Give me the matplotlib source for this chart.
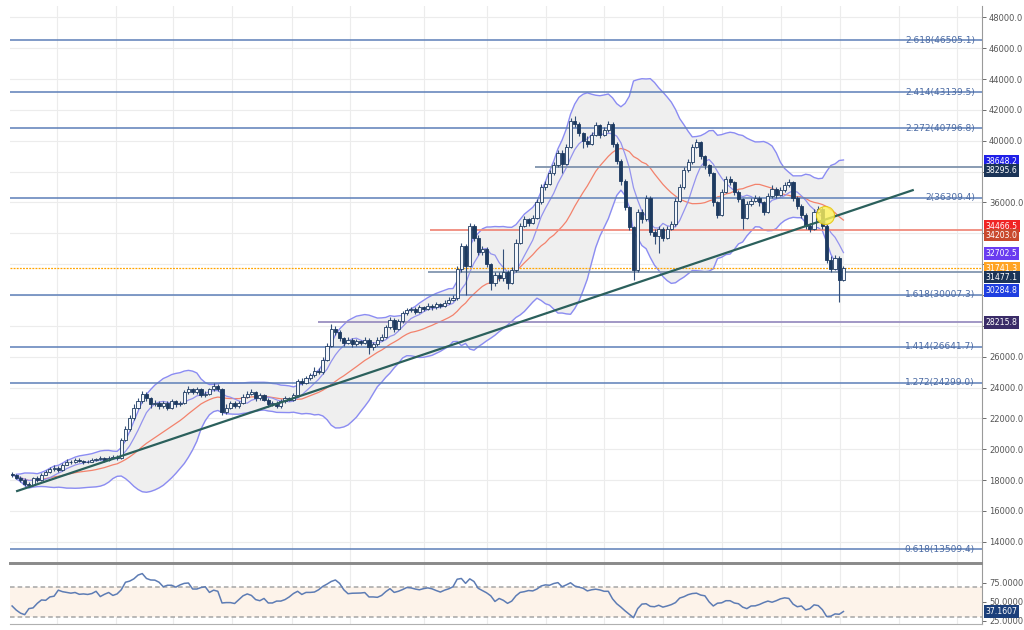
import numpy as np
import pandas as pd
import matplotlib
matplotlib.use('Agg')
import matplotlib.pyplot as plt
import matplotlib.transforms as mtransforms

# --- candles (one value per bar) ---
first_open = 18400
close = [
    18300, 18150, 18000, 17750, 17650, 18100, 18000, 18350, 18500, 18700,
    18800, 18650, 19000, 19200, 19150, 19300, 19250, 19150, 19200, 19300,
    19350, 19450, 19300, 19450, 19500, 19400, 20600, 21300, 22000, 22700,
    23100, 23600, 23300, 22900, 23000, 22800, 23000, 22700, 23100, 22900,
    23000, 23700, 23900, 23700, 23900, 23500, 23600, 23900, 24100, 23900,
    22400, 22700, 23000, 22800, 23000, 23400, 23600, 23700, 23300, 23500,
    23200, 22900, 23000, 22800, 23100, 23300, 23200, 23500, 24400, 24300,
    24600, 24800, 25100, 25000, 25800, 26700, 27800, 27600, 27200, 26900,
    27100, 26800, 27000, 26900, 27100, 26600, 26800, 27100, 27300, 27900,
    28400, 27800, 28300, 28800, 29000, 29100, 28900, 29200, 29100, 29300,
    29200, 29400, 29300, 29500, 29700, 29800, 31700, 33200, 31900, 34500,
    33700, 32800, 33000, 32000, 30800, 31300, 31100, 31500, 30800, 31600,
    33400, 34500, 34900, 34700, 35000, 36000, 37000, 37200, 37900, 38400,
    39200, 38500, 39600, 41300, 41100, 40500, 40000, 39800, 40400, 41000,
    40400, 40700, 41100, 39800, 38700, 37400, 35700, 34400, 31600, 35400,
    34900, 36300, 34100, 33800, 34300, 33700, 34300, 34600, 36100, 37000,
    38100, 38600, 39600, 39900, 39000, 38400, 37900, 36000, 35200, 36700,
    37500, 37300, 36700, 36200, 35000, 35900, 36100, 36300, 36000, 35400,
    36400, 36900, 36500, 36800, 37100, 37300, 36300, 35800, 35200, 34500,
    34300, 35400, 35600, 34500, 32300, 31700, 32400, 31000, 31741.3,
]
high = [
    18550, 18400, 18250, 18100, 17850, 18200, 18250, 18450, 18650, 18850,
    18950, 18900, 19100, 19350, 19300, 19400, 19400, 19300, 19300, 19400,
    19450, 19550, 19500, 19550, 19600, 19600, 20700, 21500, 22200, 22900,
    23300, 23800, 23700, 23400, 23200, 23100, 23150, 23100, 23250, 23200,
    23150, 23850, 24100, 24000, 24050, 24000, 23750, 24000, 24300, 24200,
    24000, 22900, 23150, 23100, 23150, 23550, 23750, 23900, 23800, 23650,
    23600, 23300, 23150, 23100, 23250, 23450, 23400, 23650, 24550, 24600,
    24750, 24950, 25300, 25250, 25950, 26900, 28100, 28000, 27700, 27300,
    27300, 27200, 27150, 27100, 27250, 27200, 26950, 27250, 27450, 28050,
    28600, 28500, 28450, 28950, 29150, 29250, 29200, 29350, 29300, 29450,
    29400, 29550, 29500, 29650, 29850, 30000, 31900, 33400, 33300, 34700,
    34600, 33900, 33200, 33100, 32100, 31500, 31500, 33000, 31600, 31800,
    33600, 34700, 35100, 35000, 35200, 36200, 37200, 37400, 38100, 38600,
    39400, 39400, 39800, 41500, 41600, 41200, 40600, 40300, 40600, 41200,
    41100, 40900, 41300, 41200, 39900, 38800, 37500, 35800, 34500, 35600,
    35600, 36500, 36400, 34300, 34500, 34400, 34500, 34800, 36300, 37200,
    38300, 38800, 39800, 40100, 40000, 39100, 38500, 38000, 36100, 36900,
    37700, 37700, 37400, 36800, 36300, 36100, 36300, 36500, 36400, 36100,
    36600, 37100, 37000, 37000, 37300, 37500, 37400, 36400, 35900, 35300,
    34700, 35600, 35800, 35700, 34600, 32500, 32600, 32500, 31900,
]
low = [
    18200, 18050, 17900, 17600, 17550, 17600, 17900, 17950, 18300, 18450,
    18600, 18550, 18600, 18950, 19050, 19100, 19150, 19050, 19100, 19150,
    19250, 19300, 19200, 19250, 19400, 19300, 19350, 20500, 21200, 21900,
    22600, 23000, 23100, 22700, 22800, 22600, 22700, 22550, 22600, 22750,
    22800, 22900, 23600, 23550, 23600, 23400, 23400, 23500, 23800, 23750,
    22200, 22250, 22600, 22650, 22700, 22900, 23300, 23500, 23150, 23200,
    23100, 22750, 22800, 22650, 22700, 23000, 23100, 23100, 23400, 24150,
    24200, 24500, 24700, 24850, 24900, 25700, 26600, 27400, 27000, 26700,
    26800, 26600, 26700, 26750, 26800, 26200, 26450, 26700, 27000, 27200,
    27800, 27600, 27700, 28200, 28700, 28900, 28750, 28800, 28950, 29000,
    29050, 29100, 29150, 29200, 29400, 29600, 29700, 31500, 30000, 31800,
    33500, 32600, 32600, 31800, 30300, 30600, 30900, 30900, 30400, 30700,
    31500, 33300, 34400, 34500, 34600, 34900, 35900, 36800, 37100, 37800,
    38300, 37900, 38400, 39500, 40900, 40300, 39500, 39600, 39700, 40300,
    40200, 40300, 40600, 39600, 38500, 37100, 35500, 34200, 30950, 31500,
    34700, 34800, 33900, 33300, 32700, 33500, 33600, 34200, 34500, 36000,
    36900, 38000, 38500, 39500, 38800, 38200, 37700, 35800, 35000, 35100,
    36600, 37100, 36500, 36000, 34300, 34900, 35800, 36000, 35800, 35200,
    35300, 36300, 36300, 36400, 36700, 37000, 36100, 35600, 35000, 34300,
    34100, 34200, 35300, 34300, 32100, 31500, 31600, 29550, 30900,
]
rsi = [
    44.5, 39, 35, 33, 41, 42, 48, 52.5, 52, 56.5,
    57.5, 65.5, 63.5, 62.5, 61.5, 62.4, 60, 60.5, 59.8, 61,
    64, 57, 60, 62.4, 58.5, 60.5, 66, 76, 77.5, 80.5,
    85.5, 87.5, 81, 79, 78.8, 76, 70, 72, 72, 69.5,
    72.5, 74.5, 75, 67, 67, 69, 70, 62.5, 65.5, 64,
    48.5, 49, 49, 47.8, 53, 58, 60.5, 58.5, 53, 51.5,
    54.5, 48.5, 48.5, 51, 51, 53, 56.5, 61, 64, 59.8,
    62.5, 62.5, 63, 66, 70.5, 73.5, 77, 79, 74.5, 66,
    60.8, 61.4, 61.6, 61.7, 62.3, 56.5, 56.5, 56, 58.5, 63.5,
    67.5, 62.5, 64, 66.3, 69, 68.5, 67, 66, 67.5, 68.5,
    67.3, 65, 63, 65.5, 67.3, 70, 80, 81, 74.5, 80.5,
    77, 68, 65, 62, 58, 50.5, 54.5, 52, 48, 51,
    58, 62.5, 63.5, 65, 64.5, 67, 71, 72.5, 72, 74.3,
    75.5, 70, 72.5, 75.3, 71, 69.5, 68, 64.5, 66, 66.8,
    65.8, 64, 64, 54, 47.5, 43, 38, 33.5, 29, 41,
    47, 47.5, 44, 43.5, 45.5, 43, 44.5, 46.3, 49, 55,
    56.8, 59.5, 61, 61.5, 59, 58, 50, 44.5, 48.2, 48.7,
    51.5, 51.5, 48.5, 47.5, 43, 41, 44.5, 44.7, 46.5, 49,
    51, 49.5, 51.5, 54, 55.3, 54.5, 47, 43.5, 44.5, 39.2,
    41, 46, 45, 39.5, 30.5, 31, 34, 33.5, 37.1607,
]

# --- drawn objects ---
fib_ratios = ['2.618', '2.414', '2.272', '2', '1.618', '1.414', '1.272', '0.618']
fib_levels = [46505.1, 43139.5, 40796.8, 36309.4, 30007.3, 26641.7, 24299.0, 13509.4]

level_values = [38295.6, 34203.0, 31477.1, 28215.8]
level_from_bar = [124.5, 99.5, 99.0, 72.9]
level_colors = ['#7f93ad', '#f08a7c', '#8296b0', '#9a8fc0']

last_price = 31741.3
trend_bars = [1.2, 214.5]
trend_prices = [17288, 36796]
mark_bar, mark_price = 193.6, 35180

tag_values = [38648.2, 38295.6, 34466.5, 34203.0, 32702.5, 31741.3, 31477.1, 30284.8, 28215.8]
tag_colors = ['#1f1fe8', '#1b3457', '#f02424', '#c9492d', '#6a3cf0', '#ffa424', '#1b3457', '#1f3fe0', '#3a2c68']

time_grid = [10.7, 24.8, 38.3, 52.4, 66.7, 80.5, 98.1, 113.1, 127.1, 140.9, 155, 169, 183.1, 197.1, 211.2, 225]

price_ticks = list(range(14000, 48001, 2000))
rsi_ticks = [25, 50, 75]

# --- indicators ---
c = pd.Series(close, dtype=float)
o = np.r_[first_open, c.values[:-1]]
x = np.arange(len(c))
mid = c.rolling(20, min_periods=2).mean()
sd = c.rolling(20, min_periods=2).std(ddof=0)
upper = mid + 2 * sd
lower = mid - 2 * sd
fast = c.rolling(7, min_periods=1).mean()

fig = plt.figure(figsize=(10.24, 6.30), dpi=100)
ax = fig.add_axes([10 / 1024, 1 - 563 / 630, 972 / 1024, 557 / 630])
ax2 = fig.add_axes([10 / 1024, 1 - 624 / 630, 972 / 1024, 60 / 630], sharex=ax)

ylo, yhi = 12620, 48740
xmin, xmax = -0.5, 231
ax.set_xlim(xmin, xmax)
ax.set_ylim(ylo, yhi)

# grid
for g in time_grid:
    ax.axvline(g, color='#ececec', lw=0.8, zorder=0)
    ax2.axvline(g, color='#ececec', lw=0.8, zorder=0)
for yv in price_ticks:
    ax.axhline(yv, color='#ececec', lw=0.8, zorder=0)

# bollinger
ax.fill_between(x, lower, upper, color='#efefef', zorder=1, lw=0)
ax.plot(x, upper, color='#8b8cf2', lw=1.0, zorder=2)
ax.plot(x, lower, color='#8b8cf2', lw=1.0, zorder=2)
ax.plot(x, mid, color='#f3826c', lw=0.9, zorder=2)
ax.plot(x, fast, color='#9493ee', lw=0.9, zorder=2)

# fib lines
for r, lv in zip(fib_ratios, fib_levels):
    ax.axhline(lv, color='#5d7fb8', lw=1.1, zorder=3)
    ax.text(229.3, lv, f'{r}({lv:.1f})', ha='right', va='center', fontsize=6.5,
            color='#4a6aa3', zorder=3)

for lv, start, col in zip(level_values, level_from_bar, level_colors):
    ax.hlines(lv, start, xmax, color=col, lw=1.3, zorder=3)
ax.axhline(last_price, color='#ffa500', lw=0.9, ls=(0, (1.5, 1)), zorder=3)

# candles
up = c.values >= o
body_lo = np.minimum(o, c.values)
body_h = np.maximum(np.abs(c.values - o), 40)
ax.vlines(x, low, high, color='#34507a', lw=0.8, zorder=4)
ax.bar(x[up], body_h[up], bottom=body_lo[up], width=0.75, color='#f3f6fb',
       edgecolor='#1d3a60', linewidth=0.6, zorder=5)
ax.bar(x[~up], body_h[~up], bottom=body_lo[~up], width=0.75, color='#1d3a60',
       edgecolor='#1d3a60', linewidth=0.6, zorder=5)

ax.plot(trend_bars, trend_prices, color='#2b605c', lw=1.6, zorder=6)
ax.scatter([mark_bar], [mark_price], s=170, color='#fff35a', alpha=0.8,
           edgecolor='#e2c200', linewidth=0.8, zorder=7)

# axes styling
for a in (ax, ax2):
    a.yaxis.tick_right()
    a.tick_params(axis='y', labelsize=6, colors='#555555', length=3, width=0.6, pad=2)
    a.tick_params(axis='x', bottom=False, labelbottom=False)
    a.spines['left'].set_visible(False)
    a.spines['right'].set_color('#9a9a9a')
    a.set_facecolor('white')
ax.spines['top'].set_visible(False)
ax.spines['bottom'].set_color('#8a8a8a')
ax.spines['bottom'].set_linewidth(1.4)
ax2.spines['top'].set_color('#8a8a8a')
ax2.spines['top'].set_linewidth(1.4)
ax2.spines['bottom'].set_color('#b0b0b0')

# price tags on the right axis, pushed apart when they would overlap
px_per_unit = (557 / (yhi - ylo))
gap = 9 / px_per_unit
tag_y = []
prev = None
for v in sorted(tag_values, reverse=True):
    yv = v if prev is None else min(v, prev - gap)
    prev = yv
    tag_y.append((v, yv))
colors_by_value = dict(zip(tag_values, tag_colors))

# tick labels hidden where a tag box sits on top of them (as on the original)
ax.set_yticks(price_ticks)
ax.set_yticklabels([f'{v:.1f}' if min(abs(v - ty) for _, ty in tag_y) > gap * 0.95 else ''
                    for v in price_ticks])

trans = mtransforms.blended_transform_factory(ax.transAxes, ax.transData)
for v, yv in tag_y:
    ax.text(1.004, yv, f'{v:.1f}', transform=trans, ha='left', va='center',
            fontsize=5.6, color='white', clip_on=False, zorder=10,
            bbox=dict(boxstyle='square,pad=0.22', fc=colors_by_value[v], ec='none'))

# RSI panel
ax2.set_ylim(20.6, 100.2)
ax2.axhspan(30, 70, color='#fdf3ea', zorder=0, lw=0)
ax2.axhline(70, color='#a5a5a5', lw=1.1, ls=(0, (3, 2)), zorder=1)
ax2.axhline(30, color='#a5a5a5', lw=1.1, ls=(0, (3, 2)), zorder=1)
ax2.plot(x, rsi, color='#5d7cb4', lw=1.1, zorder=3)
ax2.set_yticks(rsi_ticks)
ax2.set_yticklabels([f'{v:.4f}' for v in rsi_ticks])
trans2 = mtransforms.blended_transform_factory(ax2.transAxes, ax2.transData)
ax2.text(1.004, rsi[-1], f'{rsi[-1]:.4f}', transform=trans2, ha='left', va='center',
         fontsize=5.6, color='white', clip_on=False, zorder=10,
         bbox=dict(boxstyle='square,pad=0.22', fc='#1b3f7a', ec='none'))

fig.savefig('out.png', dpi=100)
